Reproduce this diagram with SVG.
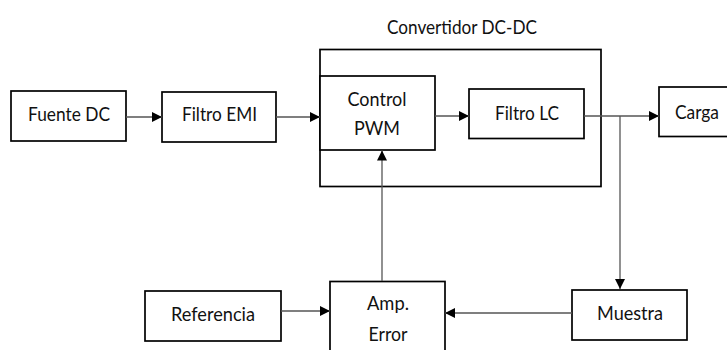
<svg xmlns="http://www.w3.org/2000/svg" width="727" height="350" viewBox="0 0 727 350">
<style>
.box{fill:#fff;stroke:#000;stroke-width:1.7}
.outer{fill:none;stroke:#000;stroke-width:1.7}
.t{font-family:Lato,"Open Sans",sans-serif;font-size:20px;fill:#111;text-anchor:middle}
.c{fill:none;stroke:#555;stroke-width:1.3}
</style>
<defs>
<marker id="ah" viewBox="0 0 10 10" refX="10" refY="5" markerWidth="10" markerHeight="10" markerUnits="userSpaceOnUse" orient="auto">
<path d="M0,0 L10,5 L0,10 Z" fill="#000"/>
</marker>
</defs>
<rect width="727" height="350" fill="#fff"/>
<g id="convertidor">
<rect class="outer" x="320" y="49.5" width="281" height="137"/>
<text class="t" x="462" y="34" textLength="150" lengthAdjust="spacingAndGlyphs">Convertidor DC-DC</text>
</g>
<g id="fuente">
<rect class="box" x="11" y="91" width="115" height="50"/>
<text class="t" x="69" y="120.5" textLength="82" lengthAdjust="spacingAndGlyphs">Fuente DC</text>
</g>
<g id="filtroemi">
<rect class="box" x="162" y="92" width="114" height="50"/>
<text class="t" x="219.5" y="120.5" textLength="75" lengthAdjust="spacingAndGlyphs">Filtro EMI</text>
</g>
<g id="control">
<rect class="box" x="320" y="76" width="115" height="74"/>
<text class="t" x="377" y="105.5" textLength="59" lengthAdjust="spacingAndGlyphs">Control</text>
<text class="t" x="377" y="135" textLength="46" lengthAdjust="spacingAndGlyphs">PWM</text>
</g>
<g id="filtrolc">
<rect class="box" x="469" y="89" width="115" height="49.5"/>
<text class="t" x="527" y="119.5" textLength="64" lengthAdjust="spacingAndGlyphs">Filtro LC</text>
</g>
<g id="carga">
<rect class="box" x="659" y="87" width="90" height="49.5"/>
<text class="t" x="697" y="118.5" textLength="44" lengthAdjust="spacingAndGlyphs">Carga</text>
</g>
<g id="referencia">
<rect class="box" x="145" y="291" width="136" height="50"/>
<text class="t" x="213" y="320.5" textLength="84" lengthAdjust="spacingAndGlyphs">Referencia</text>
</g>
<g id="amp">
<rect class="box" x="330" y="281.5" width="115" height="80"/>
<text class="t" x="388" y="309.5" textLength="42" lengthAdjust="spacingAndGlyphs">Amp.</text>
<text class="t" x="388" y="341" textLength="39" lengthAdjust="spacingAndGlyphs">Error</text>
</g>
<g id="muestra">
<rect class="box" x="572" y="290" width="115" height="50"/>
<text class="t" x="630" y="319.5" textLength="66" lengthAdjust="spacingAndGlyphs">Muestra</text>
</g>
<g id="connectors">
<line class="c" x1="126" y1="117" x2="162" y2="117" marker-end="url(#ah)"/>
<line class="c" x1="276" y1="117" x2="320" y2="117" marker-end="url(#ah)"/>
<line class="c" x1="435" y1="116" x2="469" y2="116" marker-end="url(#ah)"/>
<line class="c" x1="584" y1="116" x2="659" y2="116" marker-end="url(#ah)"/>
<line class="c" x1="620" y1="116" x2="620" y2="289" marker-end="url(#ah)"/>
<line class="c" x1="572" y1="313" x2="445" y2="313" marker-end="url(#ah)"/>
<line class="c" x1="281" y1="311" x2="330" y2="311" marker-end="url(#ah)"/>
<line class="c" x1="382" y1="281" x2="382" y2="150.5" marker-end="url(#ah)"/>
</g>
</svg>
